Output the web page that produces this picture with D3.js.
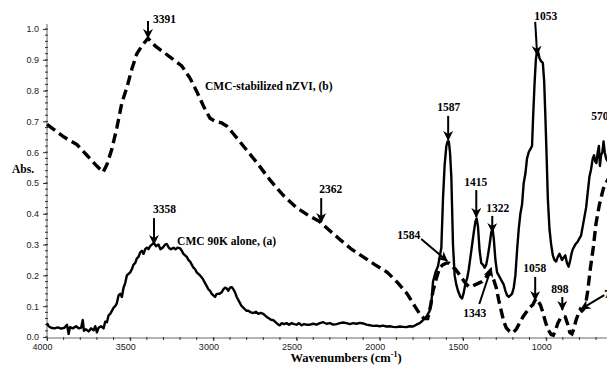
<!DOCTYPE html>
<html>
<head>
<meta charset="utf-8">
<script src="https://cdn.jsdelivr.net/npm/d3@7/dist/d3.min.js"></script>
<style>
  html, body { margin: 0; padding: 0; background: #fff; overflow: hidden; }
  svg { display: block; }
  .lbl { font-family: "Liberation Serif", "Times New Roman", serif; font-weight: bold; font-size: 11.5px; fill: #000; }
  .tick text { font-family: "Liberation Sans", Arial, sans-serif; font-size: 9px; fill: #222; }
</style>
</head>
<body>
<svg id="chart" width="607" height="367"></svg>
<script>
// CMC 90K alone, (a)  -- [wavenumber, absorbance]
var seriesA = [
  [4000,0.045],[3990,0.035],[3975,0.03],[3955,0.028],[3935,0.031],[3915,0.027],[3895,0.03],[3880,0.04],
  [3870,0.01],[3862,0.032],[3845,0.028],[3825,0.035],[3810,0.028],[3795,0.03],[3785,0.055],[3778,0.02],
  [3765,0.025],[3750,0.018],[3735,0.028],[3720,0.022],[3710,0.035],[3700,0.015],[3690,0.03],[3675,0.035],
  [3660,0.028],[3650,0.05],[3640,0.048],[3630,0.07],[3620,0.075],[3610,0.085],[3600,0.095],[3590,0.1],
  [3580,0.11],[3570,0.135],[3560,0.14],[3550,0.13],[3540,0.16],[3530,0.175],[3520,0.2],[3510,0.205],
  [3500,0.21],[3490,0.22],[3480,0.235],[3470,0.24],[3460,0.255],[3450,0.26],[3440,0.275],[3430,0.28],
  [3420,0.27],[3410,0.285],[3400,0.29],[3390,0.285],[3380,0.295],[3370,0.3],[3358,0.305],[3345,0.295],
  [3330,0.3],[3318,0.285],[3305,0.29],[3290,0.3],[3280,0.302],[3268,0.29],[3255,0.285],[3240,0.29],
  [3228,0.285],[3215,0.29],[3200,0.288],[3190,0.28],[3180,0.27],[3170,0.265],[3160,0.26],[3150,0.25],
  [3140,0.245],[3130,0.235],[3120,0.225],[3110,0.22],[3100,0.21],[3090,0.205],[3080,0.2],[3065,0.19],
  [3050,0.175],[3040,0.165],[3030,0.155],[3020,0.15],[3010,0.14],[3000,0.135],[2990,0.13],[2980,0.14],
  [2965,0.14],[2950,0.145],[2940,0.155],[2930,0.16],[2920,0.158],[2910,0.15],[2900,0.16],[2890,0.162],
  [2880,0.155],[2870,0.145],[2860,0.13],[2850,0.12],[2840,0.11],[2830,0.1],[2820,0.095],[2810,0.09],
  [2800,0.085],[2790,0.085],[2775,0.08],[2760,0.078],[2745,0.082],[2730,0.075],[2715,0.078],[2700,0.075],
  [2690,0.07],[2680,0.065],[2670,0.062],[2660,0.058],[2650,0.055],[2640,0.055],[2630,0.05],[2620,0.045],
  [2610,0.04],[2600,0.038],[2590,0.045],[2575,0.042],[2560,0.045],[2545,0.04],[2530,0.045],[2515,0.042],
  [2500,0.04],[2485,0.045],[2470,0.038],[2455,0.042],[2440,0.04],[2420,0.04],[2400,0.043],[2380,0.04],
  [2360,0.045],[2340,0.048],[2320,0.043],[2300,0.045],[2280,0.04],[2260,0.042],[2240,0.045],[2220,0.047],
  [2200,0.045],[2180,0.042],[2160,0.045],[2140,0.043],[2120,0.046],[2100,0.044],[2080,0.04],[2060,0.038],
  [2040,0.036],[2020,0.037],[2000,0.035],[1980,0.037],[1960,0.034],[1940,0.035],[1920,0.033],[1900,0.032],
  [1880,0.034],[1860,0.033],[1840,0.032],[1820,0.035],[1800,0.034],[1780,0.04],[1760,0.045],[1745,0.052],
  [1730,0.06],[1715,0.07],[1700,0.085],[1690,0.11],[1680,0.18],[1665,0.21],[1650,0.23],[1640,0.26],
  [1630,0.29],[1620,0.45],[1610,0.56],[1600,0.62],[1592,0.635],[1585,0.635],[1578,0.6],[1570,0.52],
  [1560,0.3],[1550,0.2],[1540,0.17],[1530,0.15],[1515,0.13],[1505,0.125],[1495,0.145],[1485,0.175],
  [1475,0.19],[1465,0.22],[1455,0.26],[1445,0.3],[1435,0.34],[1425,0.375],[1418,0.385],[1410,0.36],
  [1400,0.28],[1390,0.24],[1380,0.235],[1370,0.225],[1360,0.235],[1350,0.265],[1340,0.3],[1330,0.34],
  [1322,0.35],[1315,0.32],[1305,0.25],[1295,0.21],[1285,0.2],[1275,0.19],[1265,0.18],[1255,0.17],
  [1245,0.15],[1235,0.135],[1225,0.13],[1215,0.135],[1205,0.14],[1195,0.16],[1185,0.2],[1175,0.28],
  [1165,0.35],[1155,0.4],[1145,0.43],[1135,0.5],[1125,0.53],[1115,0.58],[1105,0.6],[1095,0.61],
  [1085,0.62],[1078,0.72],[1070,0.82],[1062,0.9],[1055,0.93],[1048,0.925],[1040,0.905],[1030,0.895],
  [1020,0.89],[1012,0.83],[1005,0.72],[998,0.6],[990,0.45],[980,0.35],[970,0.3],[960,0.265],
  [950,0.25],[940,0.245],[930,0.26],[920,0.27],[912,0.26],[905,0.25],[895,0.258],[885,0.265],
  [875,0.24],[865,0.228],[855,0.25],[848,0.27],[840,0.285],[825,0.3],[810,0.31],[800,0.32],
  [790,0.33],[780,0.36],[770,0.39],[760,0.42],[750,0.47],[740,0.52],[730,0.545],[720,0.58],
  [712,0.59],[705,0.57],[698,0.565],[690,0.6],[683,0.62],[677,0.555],[670,0.59],[662,0.6],
  [655,0.635],[648,0.6],[640,0.58],[630,0.57]
];

// CMC-stabilized nZVI, (b)
var seriesB = [
  [4000,0.69],[3900,0.65],[3820,0.625],[3760,0.59],[3700,0.555],[3663,0.535],[3640,0.56],[3610,0.61],
  [3580,0.68],[3550,0.76],[3520,0.81],[3490,0.87],[3460,0.92],[3430,0.945],[3393,0.97],[3350,0.945],
  [3300,0.925],[3250,0.905],[3190,0.88],[3140,0.84],[3098,0.795],[3060,0.75],[3020,0.71],[2990,0.7],
  [2950,0.695],[2920,0.685],[2880,0.66],[2820,0.62],[2740,0.567],[2660,0.51],[2580,0.46],[2500,0.42],
  [2430,0.395],[2362,0.375],[2300,0.345],[2238,0.316],[2170,0.285],[2100,0.26],[2030,0.235],[1955,0.21],
  [1890,0.175],[1835,0.14],[1790,0.1],[1760,0.075],[1735,0.06],[1712,0.06],[1695,0.1],[1680,0.15],
  [1660,0.19],[1640,0.225],[1620,0.235],[1600,0.24],[1584,0.24],[1565,0.228],[1545,0.22],[1525,0.205],
  [1505,0.19],[1485,0.175],[1465,0.163],[1445,0.165],[1425,0.17],[1405,0.175],[1385,0.18],[1365,0.19],
  [1350,0.205],[1343,0.21],[1330,0.2],[1315,0.185],[1300,0.16],[1285,0.12],[1270,0.085],[1255,0.05],
  [1240,0.03],[1220,0.018],[1200,0.013],[1180,0.025],[1160,0.045],[1140,0.065],[1120,0.08],[1100,0.095],
  [1080,0.105],[1066,0.12],[1058,0.125],[1048,0.115],[1035,0.105],[1020,0.08],[1005,0.05],[990,0.025],
  [970,0.008],[957,0.006],[945,0.02],[930,0.045],[915,0.06],[898,0.068],[885,0.065],[870,0.04],
  [858,0.015],[845,0.01],[835,0.025],[820,0.055],[805,0.078],[795,0.09],[785,0.085],[775,0.09],
  [765,0.1],[750,0.15],[735,0.22],[717,0.29],[700,0.37],[680,0.43],[657,0.48],[640,0.5],[620,0.52]
];

var xTicks = [4000, 3500, 3000, 2500, 2000, 1500, 1000];
var yTicks = [0, 0.1, 0.2, 0.3, 0.4, 0.5, 0.6, 0.7, 0.8, 0.9, 1.0];

// text labels: [text, wavenumber, absorbance] (left edge, baseline)
var labels = [
  ["3391", 3363, 1.019], ["3358", 3363, 0.403], ["CMC 90K alone, (a)", 3218, 0.299],
  ["CMC-stabilized nZVI, (b)", 3050, 0.802], ["2362", 2364, 0.468], ["1584", 1895, 0.318],
  ["1587", 1655, 0.734], ["1053", 1072, 1.029], ["1415", 1493, 0.49], ["1322", 1360, 0.406],
  ["1343", 1499, 0.065], ["1058", 1138, 0.211], ["898", 969, 0.143], ["795", 651, 0.127],
  ["570", 729, 0.705]
];
// arrows: [fromW, fromA, toW, toA]
var arrows = [
  [3393, 1.026, 3393, 0.971], [3357, 0.386, 3357, 0.302], [2352, 0.451, 2352, 0.373],
  [1751, 0.318, 1595, 0.247], [1589, 0.718, 1589, 0.64], [1066, 1.023, 1054, 0.916],
  [1420, 0.477, 1420, 0.39], [1324, 0.393, 1324, 0.341], [1402, 0.107, 1330, 0.224],
  [1066, 0.195, 1066, 0.12], [903, 0.13, 903, 0.088], [651, 0.136, 789, 0.091]
];

var svg = d3.select("#chart");

var x = d3.scaleLinear().domain([4000, 400]).range([47, 646]);
var y = d3.scaleLinear().domain([0, 1]).range([337, 29]);

// axes lines (grey)
svg.append("line").attr("x1", 47).attr("x2", 650).attr("y1", 338).attr("y2", 338)
  .attr("stroke", "#b4b4b4").attr("stroke-width", 2);
svg.append("line").attr("x1", 47).attr("x2", 47).attr("y1", 338).attr("y2", 24)
  .attr("stroke", "#b4b4b4").attr("stroke-width", 2);

// minor ticks
svg.append("g").selectAll("line").data(d3.range(0, 1.001, 0.02)).enter().append("line")
  .attr("x1", 45).attr("x2", 48).attr("y1", function(d){ return y(d); }).attr("y2", function(d){ return y(d); })
  .attr("stroke", "#333").attr("stroke-width", 1);
svg.append("g").selectAll("line").data(d3.range(4000, 399, -100)).enter().append("line")
  .attr("x1", function(d){ return x(d); }).attr("x2", function(d){ return x(d); })
  .attr("y1", 337).attr("y2", 340)
  .attr("stroke", "#333").attr("stroke-width", 1);

var yAxis = svg.append("g").attr("transform", "translate(47,0)")
  .call(d3.axisLeft(y).tickValues(yTicks).tickFormat(d3.format(".1f")).tickSize(4).tickPadding(4));
yAxis.select(".domain").remove();
yAxis.selectAll(".tick line").attr("stroke", "#333");

var xAxis = svg.append("g").attr("transform", "translate(0,338)")
  .call(d3.axisBottom(x).tickValues(xTicks).tickFormat(d3.format("d")).tickSize(3).tickPadding(3));
xAxis.select(".domain").remove();
xAxis.selectAll(".tick line").attr("stroke", "#333");
xAxis.selectAll(".tick text").attr("dx", -5);

// curves
var line = d3.line().x(function(d){ return x(d[0]); }).y(function(d){ return y(d[1]); });

svg.append("path").datum(seriesA).attr("d", line)
  .attr("fill", "none").attr("stroke", "#000").attr("stroke-width", 2.4)
  .attr("stroke-linejoin", "round");

svg.append("path").datum(seriesB).attr("d", line)
  .attr("fill", "none").attr("stroke", "#000").attr("stroke-width", 3.4)
  .attr("stroke-dasharray", "10,5");

// arrows
svg.append("defs").append("marker")
  .attr("id", "head").attr("viewBox", "0 0 10 10").attr("refX", 9).attr("refY", 5)
  .attr("markerWidth", 5).attr("markerHeight", 5).attr("orient", "auto")
  .append("path").attr("d", "M0,0 L10,5 L0,10 L3,5 z").attr("fill", "#000");

svg.append("g").selectAll("line").data(arrows).enter().append("line")
  .attr("x1", function(d){ return x(d[0]); }).attr("y1", function(d){ return y(d[1]); })
  .attr("x2", function(d){ return x(d[2]); }).attr("y2", function(d){ return y(d[3]); })
  .attr("stroke", "#000").attr("stroke-width", 2)
  .attr("marker-end", "url(#head)");

// labels
svg.append("g").selectAll("text").data(labels).enter().append("text")
  .attr("class", "lbl")
  .attr("x", function(d){ return x(d[1]); }).attr("y", function(d){ return y(d[2]); })
  .text(function(d){ return d[0]; });

// axis titles
svg.append("text").attr("class", "lbl").attr("x", 12).attr("y", 173).text("Abs.");

var xt = svg.append("text").attr("class", "lbl").style("font-size", "12.5px")
  .attr("x", 346).attr("y", 362).attr("text-anchor", "middle");
xt.append("tspan").text("Wavenumbers (cm");
xt.append("tspan").attr("dy", -5).style("font-size", "8px").text("-1");
xt.append("tspan").attr("dy", 5).text(")");
</script>
</body>
</html>
